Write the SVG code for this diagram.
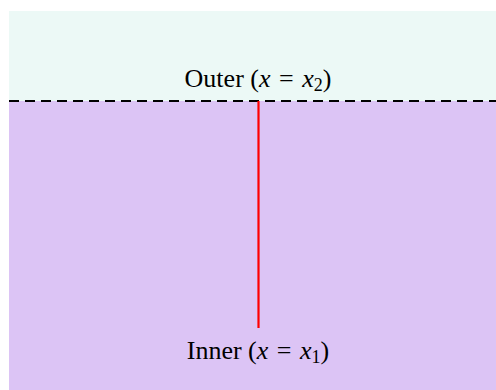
<svg xmlns="http://www.w3.org/2000/svg" width="496" height="390" viewBox="0 0 496 390">
<style>
.lbl{font-family:"Liberation Serif","Times New Roman",serif;font-size:26px;fill:#000}
.m{font-style:italic}
</style>
<rect width="496" height="390" fill="#ffffff"/>
<g id="outer-region"><rect x="9" y="11" width="487" height="90" fill="#ecf9f6"/></g>
<g id="inner-region"><rect x="9" y="101" width="487" height="289" fill="#dcc4f5"/></g>
<g id="connectors">
<line x1="9" y1="101" x2="496" y2="101" stroke="#000" stroke-width="2.2" stroke-dasharray="10 6"/>
<line x1="258.5" y1="101" x2="258.5" y2="328" stroke="#ff0000" stroke-width="2.2"/>
</g>
<g id="outer-label"><text class="lbl" x="258" y="87" text-anchor="middle">Outer (<tspan class="m">x</tspan> <tspan dx="2">=</tspan> <tspan class="m" dx="2">x</tspan><tspan font-size="18" dy="4">2</tspan><tspan dy="-4">)</tspan></text></g>
<g id="inner-label"><text class="lbl" x="258" y="359" text-anchor="middle">Inner (<tspan class="m">x</tspan> <tspan dx="2">=</tspan> <tspan class="m" dx="2">x</tspan><tspan font-size="18" dy="4">1</tspan><tspan dy="-4">)</tspan></text></g>
</svg>
